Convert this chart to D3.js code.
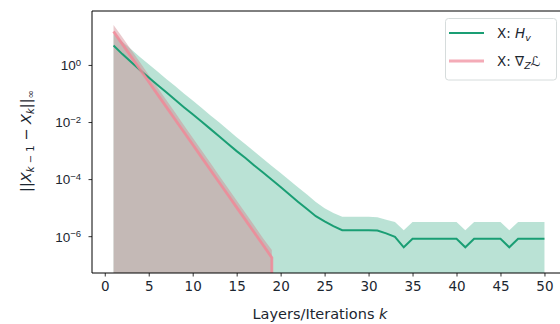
<!DOCTYPE html>
<html>
<head>
<meta charset="utf-8">
<script src="https://cdn.jsdelivr.net/npm/d3@7"></script>
<style>
  body { margin: 0; background: #fff; }
  svg { display: block; font-family: "DejaVu Sans", sans-serif; }
</style>
</head>
<body>
<div id="chart"></div>
<script>
// values are log10 of ||X_{k-1} - X_k||_inf
const iters = d3.range(1, 51);
const hvMean = [0.68, 0.38, 0.10, -0.18, -0.44, -0.70, -0.96, -1.22, -1.48, -1.73,
  -1.98, -2.24, -2.50, -2.76, -3.02, -3.26, -3.52, -3.77, -4.02, -4.28,
  -4.54, -4.80, -5.05, -5.30, -5.48, -5.65, -5.79, -5.79, -5.79, -5.79,
  -5.80, -5.90, -6.02, -6.39, -6.09, -6.09, -6.09, -6.09, -6.09, -6.09,
  -6.39, -6.09, -6.09, -6.09, -6.09, -6.39, -6.09, -6.09, -6.09, -6.09];
const hvUpper = [1.08, 0.81, 0.55, 0.28, 0.02, -0.23, -0.49, -0.74, -1.00, -1.25,
  -1.50, -1.76, -2.01, -2.27, -2.53, -2.78, -3.03, -3.29, -3.54, -3.79,
  -4.04, -4.29, -4.54, -4.80, -5.02, -5.19, -5.32, -5.32, -5.32, -5.32,
  -5.34, -5.42, -5.50, -5.79, -5.50, -5.50, -5.50, -5.50, -5.50, -5.50,
  -5.79, -5.50, -5.50, -5.50, -5.50, -5.79, -5.50, -5.50, -5.50, -5.50];
// after k = 19 the gradient variant is exactly converged (zero), so it drops off the log axis
const gradIters = d3.range(1, 20);
const gradMean = [1.17, 0.73, 0.29, -0.15, -0.59, -1.03, -1.47, -1.91, -2.35, -2.79,
  -3.23, -3.67, -4.11, -4.55, -4.99, -5.43, -5.87, -6.31, -6.75];
const gradUpper = [1.40, 0.97, 0.53, 0.09, -0.35, -0.79, -1.23, -1.67, -2.11, -2.55,
  -2.99, -3.43, -3.87, -4.31, -4.75, -5.19, -5.63, -6.07, -6.48];
const bandFloor = -12; // lower edge of both bands sits below the axis
const xTicks = d3.range(0, 51, 5);
const yTicks = [0, -2, -4, -6];

const W = 560, H = 324;
const margin = { left: 92, top: 11, right: -6, bottom: 51 };

const svg = d3.select('#chart').append('svg')
  .attr('width', W)
  .attr('height', H);

const x = d3.scaleLinear().domain([-1.45, 52.45]).range([margin.left, W - margin.right]);
const y = d3.scaleLog().domain([Math.pow(10, -7.29), Math.pow(10, 1.89)]).range([H - margin.bottom, margin.top]);

svg.append('defs').append('clipPath').attr('id', 'plotClip')
  .append('rect')
  .attr('x', margin.left).attr('y', margin.top)
  .attr('width', W - margin.right - margin.left)
  .attr('height', H - margin.bottom - margin.top);

const plot = svg.append('g').attr('clip-path', 'url(#plotClip)');
const p10 = v => Math.pow(10, v);

const green = '#1a9e74';
const pink = '#f08898';

const area = d3.area()
  .x(d => x(d.k))
  .y0(() => y(p10(bandFloor)))
  .y1(d => y(p10(d.v)));
const line = d3.line()
  .x(d => x(d.k))
  .y(d => y(p10(d.v)));

const lastK = gradIters[gradIters.length - 1];

plot.append('path')
  .datum(iters.map((k, i) => ({ k, v: hvUpper[i] })))
  .attr('d', area)
  .attr('fill', green)
  .attr('fill-opacity', 0.3);

plot.append('path')
  .datum(gradIters.map((k, i) => ({ k, v: gradUpper[i] })))
  .attr('d', area)
  .attr('fill', '#d08890')
  .attr('fill-opacity', 0.45);

plot.append('path')
  .datum(iters.map((k, i) => ({ k, v: hvMean[i] })))
  .attr('d', line)
  .attr('fill', 'none')
  .attr('stroke', green)
  .attr('stroke-width', 2);

plot.append('path')
  .datum(gradIters.map((k, i) => ({ k, v: gradMean[i] })).concat([{ k: lastK, v: bandFloor }]))
  .attr('d', line)
  .attr('fill', 'none')
  .attr('stroke', pink)
  .attr('stroke-opacity', 0.85)
  .attr('stroke-width', 2.8);

// axes
const textColor = '#1c2630';
const xAxis = svg.append('g')
  .attr('transform', `translate(0,${H - margin.bottom})`)
  .call(d3.axisBottom(x).tickValues(xTicks).tickSize(3.5).tickPadding(5).tickSizeOuter(0));
xAxis.select('.domain').remove();
xAxis.selectAll('text').attr('font-size', 13.5).attr('fill', textColor).attr('font-family', '"DejaVu Sans", sans-serif');
xAxis.selectAll('line').attr('stroke', '#000').attr('stroke-width', 0.8);

const yAxis = svg.append('g')
  .attr('transform', `translate(${margin.left},0)`)
  .call(d3.axisLeft(y).tickValues(yTicks.map(p10)).tickSize(3.5).tickPadding(3.5).tickFormat(''));
yAxis.select('.domain').remove();
yAxis.selectAll('line').attr('stroke', '#000').attr('stroke-width', 0.8);
yAxis.selectAll('.tick').each(function (d) {
  const t = d3.select(this).append('text')
    .attr('x', -11)
    .attr('dy', '0.36em')
    .attr('text-anchor', 'end')
    .attr('font-size', 13.5)
    .attr('fill', textColor);
  t.append('tspan').text('10');
  t.append('tspan').attr('dy', '-0.45em').attr('font-size', 9.5).text(String(Math.round(Math.log10(d))).replace('-', '\u2212'));
});

// spines
svg.append('line').attr('x1', margin.left).attr('x2', margin.left)
  .attr('y1', margin.top).attr('y2', H - margin.bottom).attr('stroke', '#000').attr('stroke-width', 1);
svg.append('line').attr('x1', margin.left).attr('x2', W)
  .attr('y1', H - margin.bottom).attr('y2', H - margin.bottom).attr('stroke', '#000').attr('stroke-width', 1);
svg.append('line').attr('x1', margin.left).attr('x2', W)
  .attr('y1', margin.top).attr('y2', margin.top).attr('stroke', '#000').attr('stroke-width', 1);

// axis labels
const xl = svg.append('text')
  .attr('x', 320).attr('y', 319)
  .attr('text-anchor', 'middle')
  .attr('font-size', 14.5)
  .attr('fill', textColor);
xl.append('tspan').text('Layers/Iterations ');
xl.append('tspan').attr('font-style', 'italic').text('k');

const yl = svg.append('text')
  .attr('transform', 'translate(31,141) rotate(-90)')
  .attr('text-anchor', 'middle')
  .attr('font-size', 14.5)
  .attr('fill', textColor);
yl.append('tspan').text('||');
yl.append('tspan').attr('font-style', 'italic').text('X');
yl.append('tspan').attr('font-size', 10).attr('dy', 3).attr('font-style', 'italic').text('k');
yl.append('tspan').attr('font-size', 10).text(' \u2212 1');
yl.append('tspan').attr('dy', -3).text(' \u2212 ');
yl.append('tspan').attr('font-style', 'italic').text('X');
yl.append('tspan').attr('font-size', 10).attr('dy', 3).attr('font-style', 'italic').text('k');
yl.append('tspan').attr('dy', -3).text('||');
yl.append('tspan').attr('font-size', 10).attr('dy', 3).text('\u221e');

// legend
const lg = svg.append('g');
lg.append('rect')
  .attr('x', 445.5).attr('y', 18.5)
  .attr('width', 111).attr('height', 61.5)
  .attr('rx', 3)
  .attr('fill', '#fff').attr('fill-opacity', 0.8)
  .attr('stroke', '#d6dcdc');
const legendItems = [
  { color: green, opacity: 1, width: 2, y: 33 },
  { color: pink, opacity: 0.7, width: 3, y: 61 }
];
legendItems.forEach(it => {
  lg.append('line')
    .attr('x1', 449).attr('x2', 484)
    .attr('y1', it.y).attr('y2', it.y)
    .attr('stroke', it.color).attr('stroke-opacity', it.opacity).attr('stroke-width', it.width);
});
const t1 = lg.append('text').attr('x', 497).attr('y', 38).attr('font-size', 13.5).attr('fill', textColor);
t1.append('tspan').text('X: ');
t1.append('tspan').attr('font-style', 'italic').text('H');
t1.append('tspan').attr('font-style', 'italic').attr('font-size', 9.5).attr('dy', 3).text('v');
const t2 = lg.append('text').attr('x', 497).attr('y', 66).attr('font-size', 13.5).attr('fill', textColor);
t2.append('tspan').text('X: \u2207');
t2.append('tspan').attr('font-style', 'italic').attr('font-size', 9.5).attr('dy', 3).text('Z');
t2.append('tspan').attr('dy', -3).text('\u2112');
</script>
</body>
</html>
